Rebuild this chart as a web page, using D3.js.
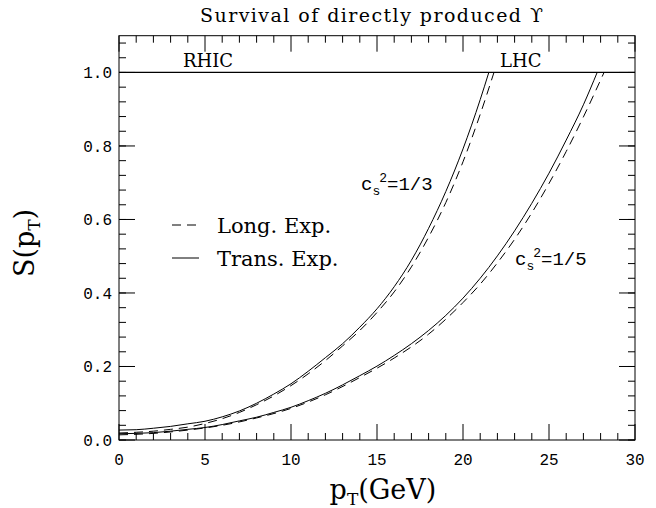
<!DOCTYPE html>
<html>
<head>
<meta charset="utf-8">
<script src="https://cdn.jsdelivr.net/npm/d3@7"></script>
<style>
  html, body { margin: 0; padding: 0; background: #fff; }
  svg { display: block; }
</style>
</head>
<body>
<svg id="chart" width="656" height="508"></svg>
<script>
// ---- data ----
const xTicks = [0, 5, 10, 15, 20, 25, 30];
const yTicks = [0.0, 0.2, 0.4, 0.6, 0.8, 1.0];
const yTickLabels = ["0.0", "0.2", "0.4", "0.6", "0.8", "1.0"];

// c_s^2 = 1/3, transverse expansion (solid)
const pT_a_trans = [0,1,2,3,4,5,6,7,8,9,10,11,12,13,14,15,16,17,18,19,20,21,21.5];
const S_a_trans  = [0.027,0.028,0.032,0.037,0.044,0.051,0.063,0.079,0.100,0.125,0.153,0.187,0.224,0.262,0.307,0.357,0.417,0.489,0.576,0.676,0.792,0.926,1.0];
// c_s^2 = 1/3, longitudinal expansion (dashed)
const pT_a_long = [0,1,2,3,4,5,6,7,8,9,10,11,12,13,14,15,16,17,18,19,20,21,21.8];
const S_a_long  = [0.019,0.021,0.024,0.029,0.035,0.045,0.058,0.075,0.096,0.120,0.148,0.180,0.216,0.256,0.298,0.347,0.403,0.471,0.552,0.646,0.757,0.886,1.0];
// c_s^2 = 1/5, transverse expansion (solid)
const pT_b_trans = [0,1,2,3,4,5,6,7,8,9,10,11,12,13,14,15,16,17,18,19,20,21,22,23,24,25,26,27,27.8];
const S_b_trans  = [0.017,0.018,0.020,0.024,0.029,0.034,0.042,0.052,0.062,0.075,0.089,0.107,0.127,0.150,0.175,0.201,0.230,0.262,0.298,0.339,0.386,0.440,0.501,0.569,0.644,0.726,0.816,0.912,1.0];
// c_s^2 = 1/5, longitudinal expansion (dashed)
const pT_b_long = [0,2,4,6,8,10,12,14,16,18,20,21,22,23,24,25,26,27,28.2];
const S_b_long  = [0.014,0.018,0.027,0.040,0.060,0.086,0.123,0.170,0.223,0.288,0.374,0.424,0.482,0.546,0.618,0.698,0.785,0.879,1.0];

const plateau = [0, 30];   // S = 1 line across the full range

// ---- layout ----
const svg = d3.select("#chart");
const L = 119, R = 635, T = 35.7, B = 440;
const x = d3.scaleLinear().domain([0, 30]).range([L, R]);
const y = d3.scaleLinear().domain([0, 1.1]).range([B, T]);

const mono = "'Liberation Mono', 'DejaVu Sans Mono', monospace";
const serif = "'DejaVu Serif', 'Liberation Serif', serif";

// frame
svg.append("rect").attr("x", L).attr("y", T).attr("width", R - L).attr("height", B - T)
  .attr("fill", "none").attr("stroke", "#000").attr("stroke-width", 1);

// ticks (inward, all four sides)
const xMinor = d3.range(0, 31, 1);
const yMinor = d3.range(0, 1.1001, 0.04);
const majLen = 16, minLen = 7;
const tg = svg.append("g").attr("stroke", "#000").attr("stroke-width", 1);
xMinor.forEach(v => {
  const len = (v % 5 === 0) ? majLen : minLen;
  tg.append("line").attr("x1", x(v)).attr("x2", x(v)).attr("y1", B).attr("y2", B - len);
  tg.append("line").attr("x1", x(v)).attr("x2", x(v)).attr("y1", T).attr("y2", T + len);
});
yMinor.forEach(v => {
  tg.append("line").attr("x1", L).attr("x2", L + minLen).attr("y1", y(v)).attr("y2", y(v));
  tg.append("line").attr("x1", R).attr("x2", R - minLen).attr("y1", y(v)).attr("y2", y(v));
});
yTicks.forEach(v => {
  tg.append("line").attr("x1", L).attr("x2", L + majLen).attr("y1", y(v)).attr("y2", y(v));
  tg.append("line").attr("x1", R).attr("x2", R - majLen).attr("y1", y(v)).attr("y2", y(v));
});

// tick labels
svg.append("g").selectAll("text").data(xTicks).join("text")
  .attr("x", d => x(d)).attr("y", 465).attr("text-anchor", "middle")
  .attr("font-family", mono).attr("font-size", 16).text(d => d);
svg.append("g").selectAll("text").data(yTicks).join("text")
  .attr("x", 112).attr("y", d => y(d)).attr("dy", "0.35em").attr("text-anchor", "end")
  .attr("font-family", mono).attr("font-size", 16).text((d, i) => yTickLabels[i]);

// plateau line at S = 1
svg.append("line").attr("x1", x(plateau[0])).attr("x2", x(plateau[1]))
  .attr("y1", y(1)).attr("y2", y(1)).attr("stroke", "#000").attr("stroke-width", 1.3);

// curves
const line = d3.line().x(d => x(d[0])).y(d => y(d[1])).curve(d3.curveMonotoneX);
const series = [
  { xs: pT_a_trans, ys: S_a_trans, dash: null },
  { xs: pT_a_long,  ys: S_a_long,  dash: "9,6" },
  { xs: pT_b_trans, ys: S_b_trans, dash: null },
  { xs: pT_b_long,  ys: S_b_long,  dash: "9,6" }
];
series.forEach(s => {
  svg.append("path").attr("d", line(s.xs.map((v, i) => [v, s.ys[i]])))
    .attr("fill", "none").attr("stroke", "#000").attr("stroke-width", 1)
    .attr("stroke-dasharray", s.dash);
});

// title
svg.append("text").attr("x", 200).attr("y", 22)
  .attr("font-family", serif).attr("font-size", 19)
  .attr("textLength", 343).attr("lengthAdjust", "spacing")
  .text("Survival of directly produced \u03D2");

// RHIC / LHC
svg.append("text").attr("x", 183).attr("y", 67).attr("font-family", serif).attr("font-size", 18).text("RHIC");
svg.append("text").attr("x", 500).attr("y", 67).attr("font-family", serif).attr("font-size", 18).text("LHC");

// c_s^2 labels
function csLabel(x0, y0, frac) {
  const t = svg.append("text").attr("x", x0).attr("y", y0).attr("font-family", mono).attr("font-size", 19);
  t.append("tspan").text("c");
  t.append("tspan").attr("font-size", 13).attr("dy", 5).text("s");
  t.append("tspan").attr("font-size", 13).attr("dy", -13).attr("dx", -1).text("2");
  t.append("tspan").attr("dy", 8).text("=1/" + frac);
}
csLabel(361, 190, "3");
csLabel(515, 265, "5");

// legend
svg.append("line").attr("x1", 172).attr("x2", 199).attr("y1", 225).attr("y2", 225)
  .attr("stroke", "#000").attr("stroke-width", 1).attr("stroke-dasharray", "9,6");
svg.append("line").attr("x1", 172).attr("x2", 199).attr("y1", 258).attr("y2", 258)
  .attr("stroke", "#000").attr("stroke-width", 1);
svg.append("text").attr("x", 217).attr("y", 233).attr("font-family", serif).attr("font-size", 21).text("Long. Exp.");
svg.append("text").attr("x", 217).attr("y", 266).attr("font-family", serif).attr("font-size", 21).text("Trans. Exp.");

// axis titles
const xt = svg.append("text").attr("x", 383).attr("y", 499).attr("text-anchor", "middle")
  .attr("font-family", serif).attr("font-size", 27);
xt.append("tspan").text("p");
xt.append("tspan").attr("font-size", 17).attr("dy", 6).text("T");
xt.append("tspan").attr("dy", -6).text("(GeV)");

const yt = svg.append("text").attr("transform", "translate(34,243) rotate(-90)")
  .attr("text-anchor", "middle").attr("font-family", serif).attr("font-size", 27);
yt.append("tspan").text("S(p");
yt.append("tspan").attr("font-size", 17).attr("dy", 6).text("T");
yt.append("tspan").attr("dy", -6).text(")");
</script>
</body>
</html>
